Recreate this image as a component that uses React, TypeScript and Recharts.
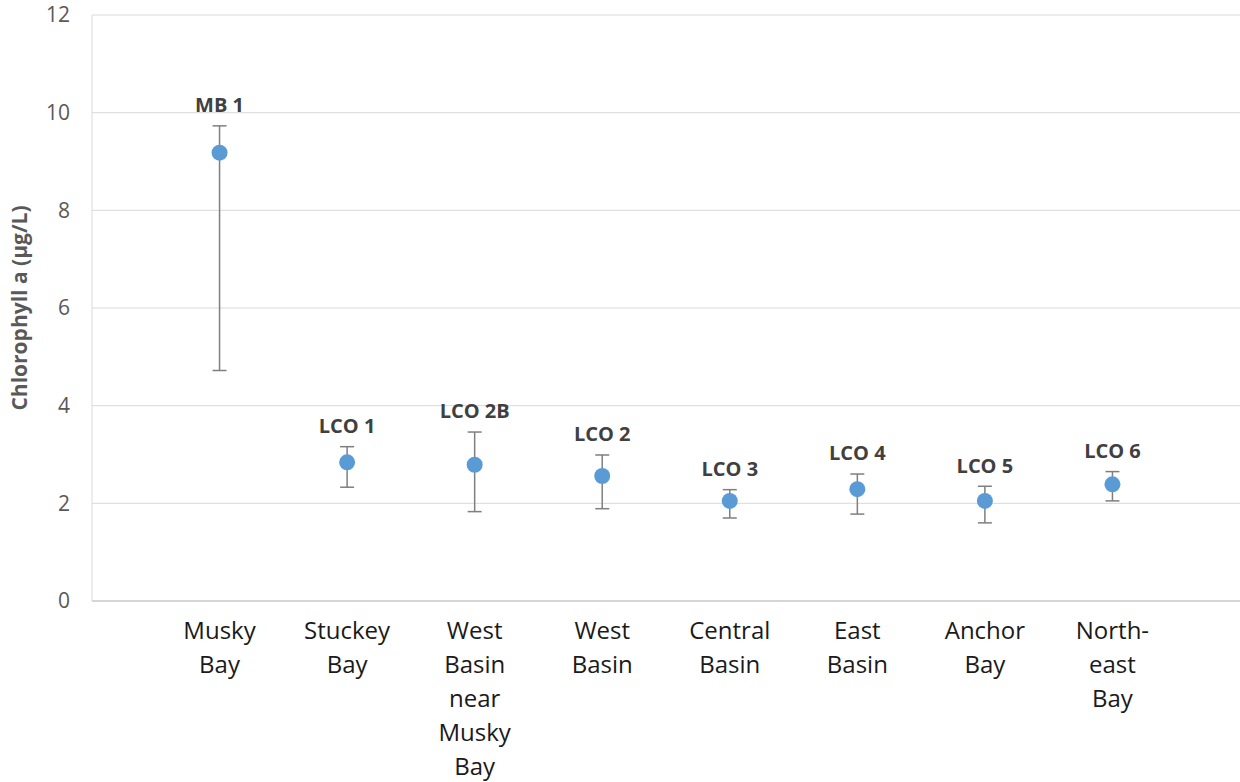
import { ScatterChart, Scatter, XAxis, YAxis, CartesianGrid, ErrorBar } from "recharts";

const sites = [
  "Musky Bay",
  "Stuckey Bay",
  "West Basin near Musky Bay",
  "West Basin",
  "Central Basin",
  "East Basin",
  "Anchor Bay",
  "North- east Bay",
];
const stations = ["MB 1", "LCO 1", "LCO 2B", "LCO 2", "LCO 3", "LCO 4", "LCO 5", "LCO 6"];
const chlMean = [9.18, 2.84, 2.79, 2.56, 2.05, 2.29, 2.05, 2.39];
const chlUpper = [9.73, 3.16, 3.46, 2.99, 2.28, 2.6, 2.35, 2.65];
const chlLower = [4.72, 2.33, 1.83, 1.89, 1.7, 1.78, 1.6, 2.05];
const yTicks = [0, 2, 4, 6, 8, 10, 12];

const data = sites.map((site, i) => ({
  pos: i + 1,
  site,
  station: stations[i],
  chl: chlMean[i],
  err: [chlMean[i] - chlLower[i], chlUpper[i] - chlMean[i]],
  top: chlUpper[i],
}));

const BLUE = "#5B9BD5";

function SiteTick({ x, y, payload }: any) {
  const idx = Math.round(payload.value) - 1;
  if (idx < 0 || idx >= sites.length) return null;
  const lines = sites[idx] === "West Basin near Musky Bay"
    ? ["West", "Basin", "near", "Musky", "Bay"]
    : sites[idx].split(" ");
  return (
    <text x={x} y={y + 36} textAnchor="middle" fill="#1a1a1a" fontSize={24} fontFamily="'Open Sans', sans-serif">
      {lines.map((l, k) => (
        <tspan key={k} x={x} dy={k === 0 ? 0 : 34}>
          {l}
        </tspan>
      ))}
    </text>
  );
}

function StationLabel({ cx, cy, payload }: any) {
  return (
    <text
      x={cx}
      y={cy - 19}
      textAnchor="middle"
      dominantBaseline="middle"
      fill="#404040"
      fontSize={20}
      fontWeight="bold"
      fontFamily="'Open Sans', sans-serif"
    >
      {payload.station}
    </text>
  );
}

export default function App() {
  return (
    <div style={{ position: "absolute", left: 0, top: 0, background: "#fff" }}>
      <ScatterChart width={1240} height={782} margin={{ top: 15, right: 0, bottom: 0, left: 0 }}>
        <CartesianGrid vertical={false} stroke="#d9d9d9" strokeWidth={1} />
        <XAxis
          type="number"
          dataKey="pos"
          domain={[0, 9]}
          ticks={[1, 2, 3, 4, 5, 6, 7, 8]}
          height={181}
          tickLine={false}
          tickSize={0}
          axisLine={{ stroke: "#bfbfbf" }}
          tick={<SiteTick />}
          interval={0}
        />
        <YAxis
          type="number"
          dataKey="chl"
          domain={[0, 12]}
          ticks={yTicks}
          width={92}
          tickLine={false}
          tickSize={0}
          tickMargin={22}
          axisLine={{ stroke: "#d9d9d9" }}
          tick={{ fill: "#595959", fontSize: 21, fontFamily: "'Open Sans', sans-serif" }}
          label={{
            value: "Chlorophyll a (µg/L)",
            angle: -90,
            position: "insideLeft",
            offset: 20,
            style: { textAnchor: "middle", fill: "#595959", fontSize: 21, fontWeight: "bold", fontFamily: "'Open Sans', sans-serif" },
          }}
        />
        <Scatter data={data} dataKey="chl" fill={BLUE} isAnimationActive={false} shape={(p: any) => <circle cx={p.cx} cy={p.cy} r={8} fill={BLUE} />}>
          <ErrorBar dataKey="err" direction="y" width={7} stroke="#7f7f7f" strokeWidth={1.5} />
        </Scatter>
        <Scatter
          data={data.map((d) => ({ pos: d.pos, chl: d.top, station: d.station }))}
          dataKey="chl"
          isAnimationActive={false}
          shape={<StationLabel />}
        />
      </ScatterChart>
    </div>
  );
}
